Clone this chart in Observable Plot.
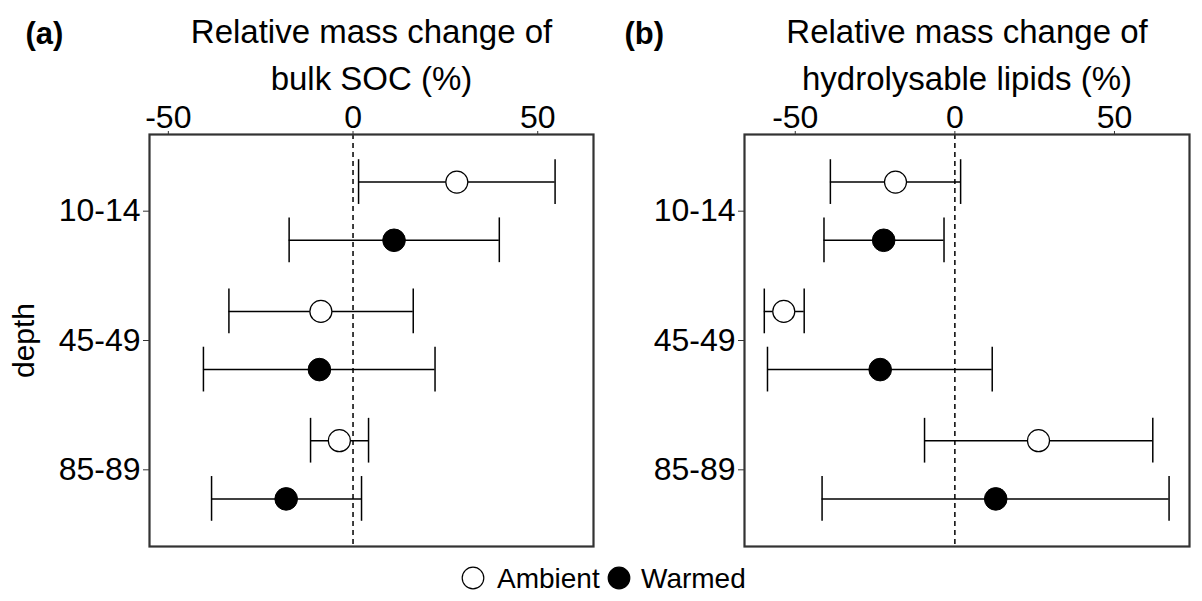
<!DOCTYPE html>
<html><head><meta charset="utf-8">
<script src="https://cdn.jsdelivr.net/npm/d3@7"></script>
<script src="https://cdn.jsdelivr.net/npm/@observablehq/plot@0.6"></script>
<style>
body{margin:0;background:#fff;font-family:"Liberation Sans",Arial,sans-serif;}
#wrap{position:relative;width:1202px;height:601px;overflow:hidden;background:#fff;}
.panel{position:absolute;top:0;}
#legend{position:absolute;top:550px;left:0;}
</style></head><body>
<div id="wrap"><div id="pa" class="panel" style="left:0"></div><div id="pb" class="panel" style="left:601px"></div><svg id="legend" width="1202" height="51"></svg></div>
<script>
const depths = ["10-14", "45-49", "85-89"];
const treatments = ["Ambient", "Warmed"];
const xTicks = [-50, 0, 50];

// Panel (a): bulk SOC
const socAmbientMean = [28.1, -8.7, -3.7];
const socAmbientLow  = [1.5, -33.6, -11.5];
const socAmbientHigh = [54.7, 16.3, 4.2];
const socWarmedMean  = [11.1, -9.1, -18.1];
const socWarmedLow   = [-17.3, -40.5, -38.3];
const socWarmedHigh  = [39.6, 22.2, 2.3];

// Panel (b): hydrolysable lipids
const lipAmbientMean = [-18.6, -53.6, 26.2];
const lipAmbientLow  = [-39.0, -59.7, -9.5];
const lipAmbientHigh = [1.8, -47.2, 62.0];
const lipWarmedMean  = [-22.3, -23.4, 12.8];
const lipWarmedLow   = [-41.0, -58.7, -41.6];
const lipWarmedHigh  = [-3.4, 11.7, 67.1];

const font = '"Liberation Sans", Arial, sans-serif';

function rowsOf(aM, aL, aH, wM, wL, wH) {
  const rows = [];
  depths.forEach((d, i) => {
    rows.push({depth: d, treatment: treatments[0], pos: i - 0.225, mean: aM[i], lo: aL[i], hi: aH[i]});
    rows.push({depth: d, treatment: treatments[1], pos: i + 0.225, mean: wM[i], lo: wL[i], hi: wH[i]});
  });
  return rows;
}

function panel({rows, domain, marginLeft, marginRight, title, tag, tagDx, yLabel}) {
  const cap = 0.173;
  const marks = [
    Plot.ruleX([0], {strokeDasharray: "5,4", strokeWidth: 1.5, stroke: "#000"}),
    Plot.ruleY(rows, {y: "pos", x1: "lo", x2: "hi", strokeWidth: 1.5, stroke: "#000"}),
    Plot.ruleX(rows, {x: "lo", y1: d => d.pos - cap, y2: d => d.pos + cap, strokeWidth: 1.5, stroke: "#000"}),
    Plot.ruleX(rows, {x: "hi", y1: d => d.pos - cap, y2: d => d.pos + cap, strokeWidth: 1.5, stroke: "#000"}),
    Plot.dot(rows.filter(d => d.treatment === "Ambient"), {x: "mean", y: "pos", r: 11, fill: "white", stroke: "black", strokeWidth: 1.2}),
    Plot.dot(rows.filter(d => d.treatment === "Warmed"), {x: "mean", y: "pos", r: 11.3, fill: "black", stroke: "black", strokeWidth: 1}),
    Plot.frame({stroke: "#333", strokeWidth: 2.2}),
    Plot.axisX({anchor: "top", ticks: xTicks, tickFormat: d => String(d), tickSize: 4, tickPadding: 3, fontSize: 32, stroke: "#333", fill: "#000", label: null}),
    Plot.axisY({anchor: "left", ticks: [0, 1, 2], tickFormat: i => depths[i], tickSize: 6, tickPadding: 3, fontSize: 32, stroke: "#333", fill: "#000", label: null}),
    Plot.text([title], {frameAnchor: "top", dy: -45, lineAnchor: "bottom", fontSize: 33, lineHeight: 1.41, fill: "#000"}),
    Plot.text([tag], {frameAnchor: "top-left", dx: tagDx, dy: -91, lineAnchor: "bottom", textAnchor: "start", fontSize: 31, fontWeight: "bold", fill: "#000"})
  ];
  if (yLabel) marks.push(Plot.text([yLabel], {frameAnchor: "left", dx: -116, rotate: -90, textAnchor: "middle", lineAnchor: "bottom", fontSize: 30, fill: "#000"}));
  return Plot.plot({
    width: 601, height: 550,
    marginLeft, marginRight, marginTop: 134, marginBottom: 4,
    style: {fontFamily: font, fontSize: "32px", color: "#000", background: "transparent", overflow: "visible"},
    x: {domain, label: null},
    y: {domain: [2.593, -0.593], label: null},
    marks
  });
}

document.getElementById("pa").appendChild(panel({
  rows: rowsOf(socAmbientMean, socAmbientLow, socAmbientHigh, socWarmedMean, socWarmedLow, socWarmedHigh),
  domain: [-55.1, 65.1], marginLeft: 149, marginRight: 8,
  title: "Relative mass change of\nbulk SOC (%)", tag: "(a)", tagDx: -124, yLabel: "depth"
}));
document.getElementById("pb").appendChild(panel({
  rows: rowsOf(lipAmbientMean, lipAmbientLow, lipAmbientHigh, lipWarmedMean, lipWarmedLow, lipWarmedHigh),
  domain: [-65.9, 73.5], marginLeft: 143, marginRight: 13,
  title: "Relative mass change of\nhydrolysable lipids (%)", tag: "(b)", tagDx: -120
}));

// legend
const lg = d3.select("#legend").style("font-family", font);
const items = [{label: treatments[0], fill: "white", cx: 473, tx: 497}, {label: treatments[1], fill: "black", cx: 619, tx: 641}];
items.forEach(it => {
  lg.append("circle").attr("cx", it.cx).attr("cy", 28).attr("r", 10.8).attr("fill", it.fill).attr("stroke", "black").attr("stroke-width", 1.2);
  lg.append("text").attr("x", it.tx).attr("y", 38).attr("font-size", 28).attr("fill", "#000").text(it.label);
});
</script>
</body></html>
